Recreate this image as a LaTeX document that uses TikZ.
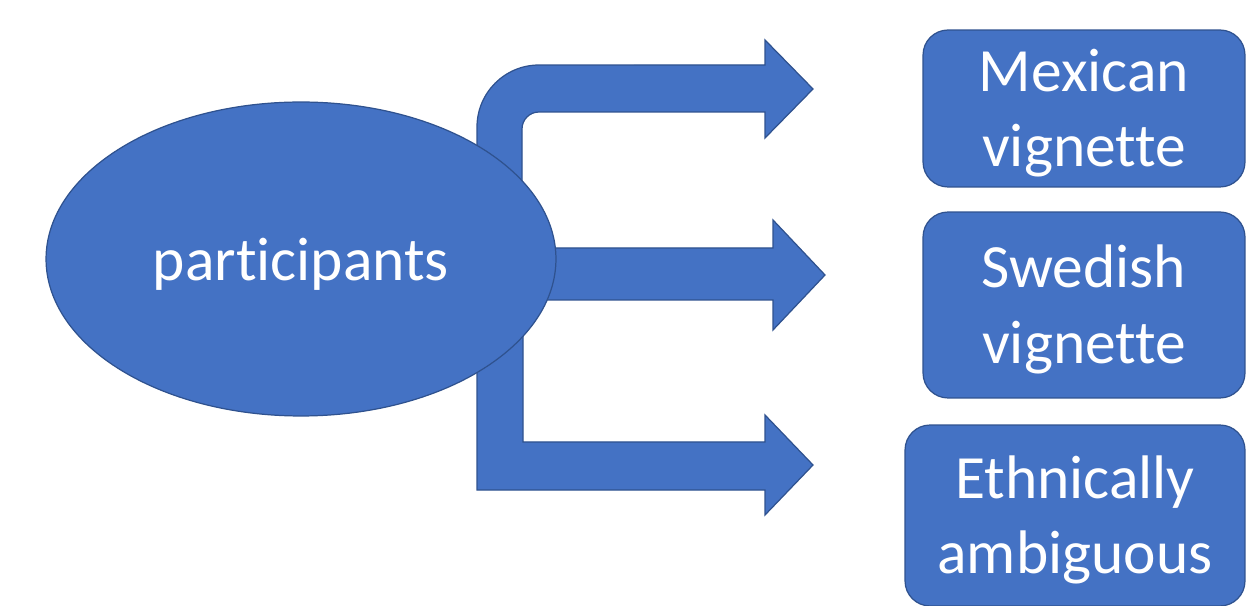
\documentclass[tikz,border=0pt]{standalone}
\usepackage{fontspec}
\setmainfont{Carlito}[Ligatures=NoCommon]
\usepackage{tikz}
\usetikzlibrary{shapes.geometric, positioning}
\definecolor{officeblue}{RGB}{68, 114, 196}
\definecolor{edgeblue}{RGB}{47, 82, 143}

\begin{document}
\begin{tikzpicture}[x=0.02cm, y=0.02cm,
    blockarrow/.style={fill=officeblue, draw=edgeblue, line width=0.7pt, line join=miter},
    groupnode/.style={ellipse, fill=officeblue, draw=edgeblue, line width=0.7pt,
        minimum width=10.2cm, minimum height=6.28cm, inner sep=0pt,
        text=white, font=\fontsize{35}{43}\selectfont},
    vignettebox/.style={rectangle, rounded corners=0.5cm, fill=officeblue,
        draw=edgeblue, line width=0.7pt, inner sep=0pt, align=center,
        text=white, font=\fontsize{35}{43}\selectfont}]
    \useasboundingbox (0,0) rectangle (1246,605);
    % Bent arrow up to the first vignette
    \filldraw[blockarrow] (477,405) -- (477,478) arc[start angle=180, end angle=90, radius=1.24cm]
        -- (765,540) -- (765,565) -- (813,516) -- (765,467) -- (765,493)
        -- (539,493) arc[start angle=90, end angle=180, radius=0.34cm]
        -- (522,405) -- cycle;
    % Straight arrow to the second vignette
    \filldraw[blockarrow] (500,357) -- (773,357) -- (773,385) -- (825,330)
        -- (773,275) -- (773,305) -- (500,305) -- cycle;
    % Bent arrow down to the third vignette
    \filldraw[blockarrow] (477,305) -- (477,115) -- (765,115) -- (765,90) -- (813,140)
        -- (765,190) -- (765,163) -- (523,163) -- (523,305) -- cycle;
    % Participants
    \node[groupnode] (participants) at (301,346) {\rule{0pt}{0.85em}participants};
    % Vignettes
    \node[vignettebox, minimum width=6.44cm, minimum height=3.14cm] (mexican)
        at (1084,496.5) {\rule{0pt}{0.84em}Mexican\\vignette};
    \node[vignettebox, minimum width=6.44cm, minimum height=3.72cm] (swedish)
        at (1084,300) {\rule{0pt}{0.84em}Swedish\\vignette};
    \node[vignettebox, minimum width=6.8cm, minimum height=3.62cm] (ambiguous)
        at (1075,89.5) {\rule{0pt}{0.84em}Ethnically\\ambiguous};
\end{tikzpicture}
\end{document}
